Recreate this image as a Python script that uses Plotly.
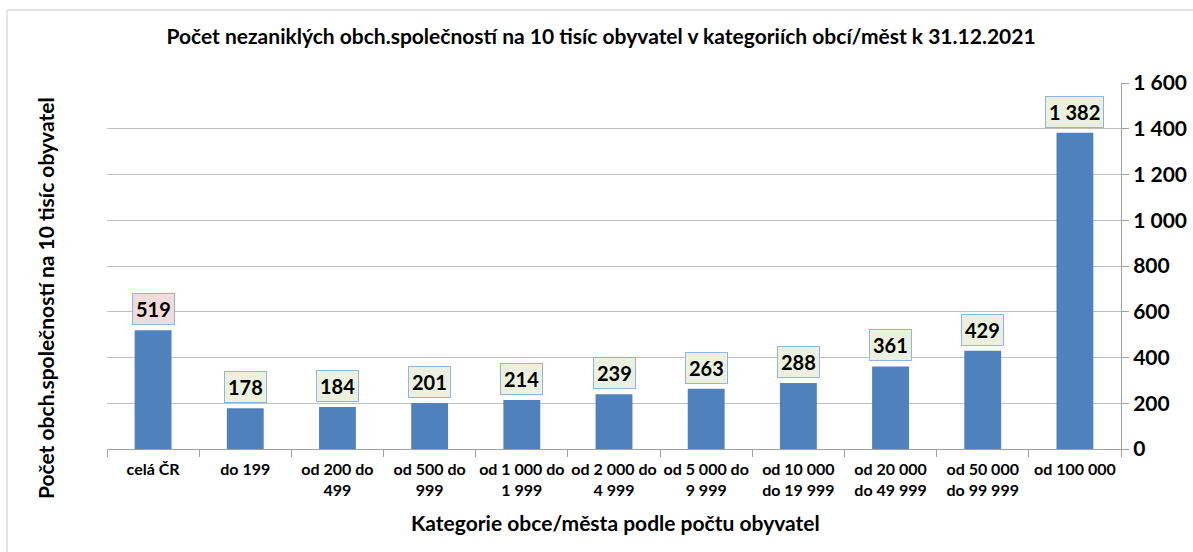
import plotly.graph_objects as go

categories = ["celá ČR", "do 199", "od 200 do<br>499", "od 500 do<br>999", "od 1 000 do<br>1 999",
              "od 2 000 do<br>4 999", "od 5 000 do<br>9 999", "od 10 000<br>do 19 999",
              "od 20 000<br>do 49 999", "od 50 000<br>do 99 999", "od 100 000"]
values = [519, 178, 184, 201, 214, 239, 263, 288, 361, 429, 1382]
label_bg = ["#f2dcdb"] + ["#ebf1de"] * 10

FONT = "Lato"
L, R, T, B = 107, 72, 83, 103
PW, PH = 1193 - L - R, 552 - T - B

fig = go.Figure()
fig.add_trace(go.Bar(x=categories, y=values, marker=dict(color="#4f81bd", line=dict(width=0)),
                     width=0.4, showlegend=False, hoverinfo="x+y"))

for c, v, bg in zip(categories, values, label_bg):
    fig.add_annotation(x=c, y=v, xref="x", yref="y", text=f"{v:,}".replace(",", " "),
                       showarrow=False, yanchor="bottom", yshift=5,
                       font=dict(family=FONT, size=20, color="#000000", weight="bold"),
                       bgcolor=bg, bordercolor="#8eb4e3", borderwidth=1, borderpad=3)

fig.add_annotation(x=(45 - L) / PW, y=(552 - B - 298) / PH, xref="paper", yref="paper",
                   yanchor="middle", xanchor="center",
                   text="Počet obch.společností na 10 tisíc obyvatel", textangle=-90, showarrow=False,
                   font=dict(family=FONT, size=21, color="#000000", weight="bold"))

fig.add_annotation(x=(615 - L) / PW, y=(552 - B - 522) / PH, xref="paper", yref="paper",
                   yanchor="middle", xanchor="center",
                   text="Kategorie obce/města podle počtu obyvatel", showarrow=False,
                   font=dict(family=FONT, size=21, color="#000000", weight="bold"))

fig.add_shape(type="rect", xref="paper", yref="paper", x0=(7 - L) / PW, x1=1.2,
              y0=-0.5, y1=(552 - B - 10) / PH, line=dict(color="#c8c8c8", width=1), layer="below")

fig.update_layout(
    width=1193, height=552,
    margin=dict(l=L, r=R, t=T, b=B, autoexpand=False),
    paper_bgcolor="white", plot_bgcolor="white",
    separators=", ",
    bargap=0.6,
    title=dict(text="Počet nezaniklých obch.společností na 10 tisíc obyvatel v kategoriích obcí/měst k 31.12.2021",
               x=(601 - L) / PW, xref="paper", xanchor="center", y=1 - 37 / 552, yanchor="middle",
               font=dict(family=FONT, size=21, color="#000000", weight="bold")),
    xaxis=dict(type="category", tickson="boundaries", ticks="outside", ticklen=7, tickcolor="#a0a0a0",
               showline=True, linecolor="#a0a0a0", linewidth=1, showgrid=False, automargin=False,
               tickangle=0, ticklabelstandoff=6,
               tickfont=dict(family=FONT, size=16, color="#000000", weight="bold")),
    yaxis=dict(side="right", range=[0, 1600], dtick=200, tickformat=",d", automargin=False,
               showgrid=True, gridcolor="#c0c0c0", gridwidth=1,
               showline=True, linecolor="#a0a0a0", linewidth=1,
               ticks="outside", ticklen=7, tickcolor="#a0a0a0",
               tickfont=dict(family=FONT, size=21, color="#000000", weight="bold"),
               zeroline=False),
)

fig.write_html("out.html", config={"displayModeBar": False},
               post_script="document.body.style.margin='0';document.body.style.overflow='hidden';")
